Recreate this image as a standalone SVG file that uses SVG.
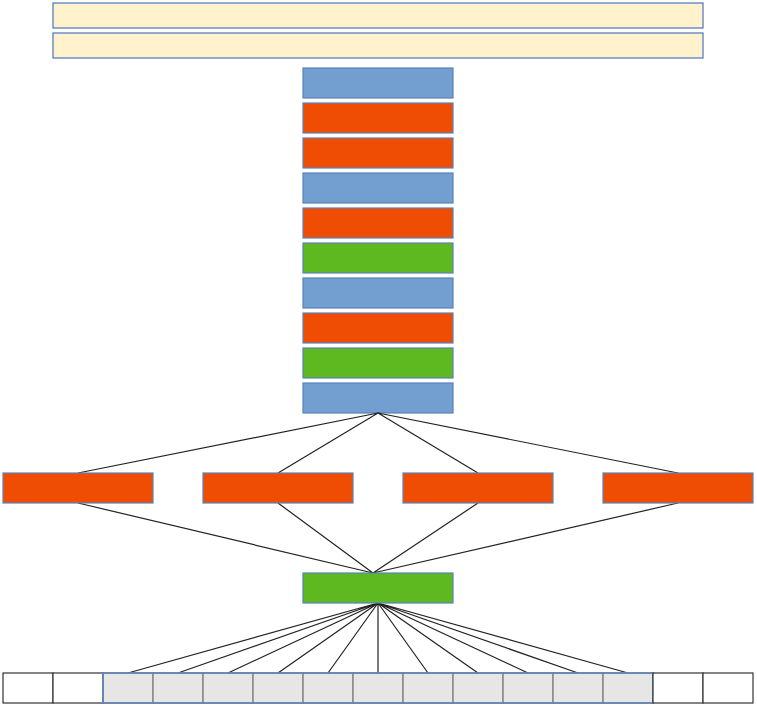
<svg xmlns="http://www.w3.org/2000/svg" width="757" height="708" viewBox="0 0 757 708">
<style>
.y{fill:#FFF2CC;stroke:#4A74C0;stroke-width:1.2}
.b{fill:#729FCF;stroke:#5A82B8;stroke-width:1.2}
.o{fill:#EE4D03;stroke:#5A82B8;stroke-width:1.2}
.g{fill:#5EB820;stroke:#5A82B8;stroke-width:1.2}
.w{fill:#FFFFFF;stroke:#333333;stroke-width:1.2}
.c{fill:#E6E6E6;stroke:#888888;stroke-width:1.5}
.l{stroke:#222222;stroke-width:1.2;fill:none}
</style>
<rect width="757" height="708" fill="#FFFFFF"/>
<g id="header1"><rect class="y" x="53" y="3" width="650" height="25"/></g>
<g id="header2"><rect class="y" x="53" y="33" width="650" height="25"/></g>
<g id="s1"><rect class="b" x="303" y="68" width="150" height="30"/></g>
<g id="s2"><rect class="o" x="303" y="103" width="150" height="30"/></g>
<g id="s3"><rect class="o" x="303" y="138" width="150" height="30"/></g>
<g id="s4"><rect class="b" x="303" y="173" width="150" height="30"/></g>
<g id="s5"><rect class="o" x="303" y="208" width="150" height="30"/></g>
<g id="s6"><rect class="g" x="303" y="243" width="150" height="30"/></g>
<g id="s7"><rect class="b" x="303" y="278" width="150" height="30"/></g>
<g id="s8"><rect class="o" x="303" y="313" width="150" height="30"/></g>
<g id="s9"><rect class="g" x="303" y="348" width="150" height="30"/></g>
<g id="s10"><rect class="b" x="303" y="383" width="150" height="30"/></g>
<g id="connectors">
<path class="l" d="M378 413L78 473M378 413L278 473M378 413L478 473M378 413L678 473"/>
<path class="l" d="M78 503L373 573M278 503L373 573M478 503L373 573M678 503L373 573"/>
<path class="l" d="M378 603L128 673M378 603L178 673M378 603L228 673M378 603L278 673M378 603L328 673M378 603L378 673M378 603L428 673M378 603L478 673M378 603L528 673M378 603L578 673M378 603L628 673"/>
</g>
<g id="m1"><rect class="o" x="3" y="473" width="150" height="30"/></g>
<g id="m2"><rect class="o" x="203" y="473" width="150" height="30"/></g>
<g id="m3"><rect class="o" x="403" y="473" width="150" height="30"/></g>
<g id="m4"><rect class="o" x="603" y="473" width="150" height="30"/></g>
<g id="green"><rect class="g" x="303" y="573" width="150" height="30"/></g>
<g id="row">
<rect class="w" x="3" y="673" width="50" height="30"/>
<rect class="w" x="53" y="673" width="50" height="30"/>
<rect class="c" x="103" y="673" width="50" height="30"/>
<rect class="c" x="153" y="673" width="50" height="30"/>
<rect class="c" x="203" y="673" width="50" height="30"/>
<rect class="c" x="253" y="673" width="50" height="30"/>
<rect class="c" x="303" y="673" width="50" height="30"/>
<rect class="c" x="353" y="673" width="50" height="30"/>
<rect class="c" x="403" y="673" width="50" height="30"/>
<rect class="c" x="453" y="673" width="50" height="30"/>
<rect class="c" x="503" y="673" width="50" height="30"/>
<rect class="c" x="553" y="673" width="50" height="30"/>
<rect class="c" x="603" y="673" width="50" height="30"/>
<rect x="103" y="673" width="550" height="30" fill="none" stroke="#5A82B8" stroke-width="1.5"/>
<rect class="w" x="653" y="673" width="50" height="30"/>
<rect class="w" x="703" y="673" width="50" height="30"/>
</g>
</svg>
